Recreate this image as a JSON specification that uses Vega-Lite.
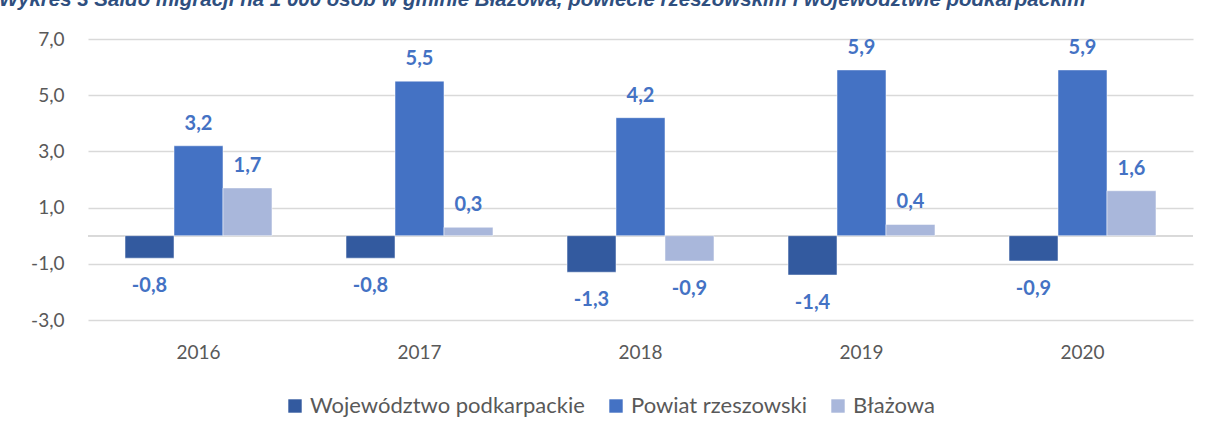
{
  "$schema": "https://vega.github.io/schema/vega-lite/v6.json",
  "width": 1105,
  "height": 281,
  "autosize": {"type": "none"},
  "padding": {"left": 88, "top": 39, "right": 16, "bottom": 115},
  "background": "white",
  "title": {
    "text": "Wykres 3 Saldo migracji na 1 000 osób w gminie Błażowa, powiecie rzeszowskim i województwie podkarpackim",
    "anchor": "start",
    "frame": "group",
    "dx": -89,
    "offset": 20,
    "font": "Liberation Sans",
    "fontSize": 20.5,
    "fontStyle": "italic",
    "fontWeight": "bold",
    "color": "#2F4F7F"
  },
  "config": {
    "view": {"stroke": null},
    "font": "Lato",
    "locale": {
      "number": {
        "decimal": ",",
        "thousands": " ",
        "grouping": [3],
        "currency": ["", " zł"],
        "minus": "-"
      }
    }
  },
  "data": {
    "values": [
      {"rok": "2016", "seria": "Województwo podkarpackie", "wartosc": -0.8},
      {"rok": "2016", "seria": "Powiat rzeszowski", "wartosc": 3.2},
      {"rok": "2016", "seria": "Błażowa", "wartosc": 1.7},
      {"rok": "2017", "seria": "Województwo podkarpackie", "wartosc": -0.8},
      {"rok": "2017", "seria": "Powiat rzeszowski", "wartosc": 5.5},
      {"rok": "2017", "seria": "Błażowa", "wartosc": 0.3},
      {"rok": "2018", "seria": "Województwo podkarpackie", "wartosc": -1.3},
      {"rok": "2018", "seria": "Powiat rzeszowski", "wartosc": 4.2},
      {"rok": "2018", "seria": "Błażowa", "wartosc": -0.9},
      {"rok": "2019", "seria": "Województwo podkarpackie", "wartosc": -1.4},
      {"rok": "2019", "seria": "Powiat rzeszowski", "wartosc": 5.9},
      {"rok": "2019", "seria": "Błażowa", "wartosc": 0.4},
      {"rok": "2020", "seria": "Województwo podkarpackie", "wartosc": -0.9},
      {"rok": "2020", "seria": "Powiat rzeszowski", "wartosc": 5.9},
      {"rok": "2020", "seria": "Błażowa", "wartosc": 1.6}
    ]
  },
  "encoding": {
    "x": {
      "field": "rok",
      "type": "nominal",
      "scale": {"paddingInner": 0.335, "paddingOuter": 0.1675},
      "axis": {
        "title": null,
        "labelAngle": 0,
        "domain": false,
        "ticks": false,
        "labelPadding": 23,
        "labelFontSize": 19,
        "labelColor": "#595959",
        "labelFont": "Lato"
      }
    },
    "xOffset": {
      "field": "seria",
      "type": "nominal",
      "sort": ["Województwo podkarpackie", "Powiat rzeszowski", "Błażowa"],
      "scale": {"paddingInner": 0, "paddingOuter": 0}
    },
    "y": {
      "field": "wartosc",
      "type": "quantitative",
      "scale": {"domain": [-3, 7], "nice": false, "zero": false},
      "axis": {
        "title": null,
        "values": [-3, -1, 1, 3, 5, 7],
        "format": ".1f",
        "domain": false,
        "ticks": false,
        "labelPadding": 24,
        "labelFontSize": 19,
        "labelColor": "#595959",
        "labelFont": "Lato",
        "gridColor": "#D9D9D9",
        "gridWidth": 1.5
      }
    }
  },
  "layer": [
    {
      "mark": {"type": "rule", "color": "#D9D9D9", "strokeWidth": 1.5},
      "encoding": {"y": {"datum": 0}, "x": null, "xOffset": null}
    },
    {
      "mark": {"type": "bar", "stroke": "white", "strokeWidth": 0.5},
      "encoding": {
        "color": {
          "field": "seria",
          "type": "nominal",
          "sort": ["Województwo podkarpackie", "Powiat rzeszowski", "Błażowa"],
          "scale": {
            "domain": ["Województwo podkarpackie", "Powiat rzeszowski", "Błażowa"],
            "range": ["#335A9F", "#4472C4", "#A9B7DB"]
          },
          "legend": {
            "title": null,
            "orient": "none",
            "legendX": 196,
            "legendY": 356,
            "direction": "horizontal",
            "symbolType": "square",
            "symbolSize": 180,
            "symbolStrokeWidth": 0,
            "labelFontSize": 22,
            "labelLimit": 500,
            "labelColor": "#595959",
            "labelFont": "Lato",
            "labelOffset": 4,
            "columnPadding": 20
          }
        }
      }
    },
    {
      "transform": [{"filter": "datum.wartosc >= 0"}],
      "mark": {"type": "text", "baseline": "alphabetic", "dy": -16, "fontSize": 20, "fontWeight": "bold", "color": "#4472C4", "font": "Lato"},
      "encoding": {
        "text": {"field": "wartosc", "type": "quantitative", "format": ".1f"}
      }
    },
    {
      "transform": [{"filter": "datum.wartosc < 0"}],
      "mark": {"type": "text", "baseline": "top", "dy": 18, "fontSize": 20, "fontWeight": "bold", "color": "#4472C4", "font": "Lato"},
      "encoding": {
        "text": {"field": "wartosc", "type": "quantitative", "format": ".1f"}
      }
    }
  ]
}
